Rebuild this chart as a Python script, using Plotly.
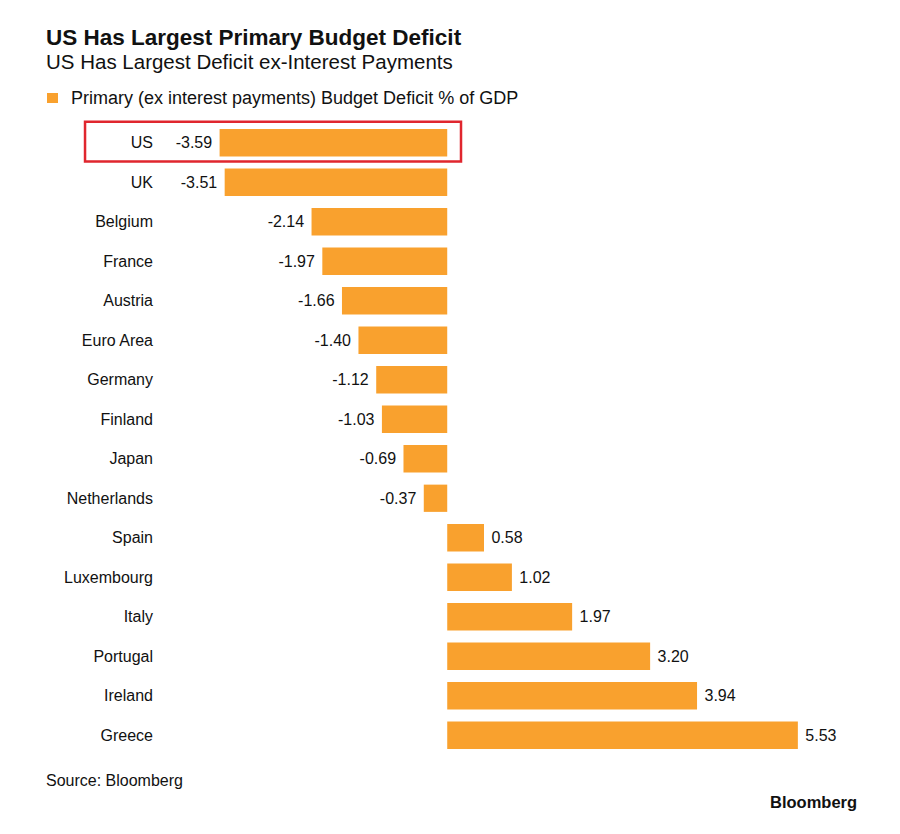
import plotly.graph_objects as go

countries = ["US", "UK", "Belgium", "France", "Austria", "Euro Area", "Germany",
             "Finland", "Japan", "Netherlands", "Spain", "Luxembourg", "Italy",
             "Portugal", "Ireland", "Greece"]
deficit = [-3.59, -3.51, -2.14, -1.97, -1.66, -1.40, -1.12, -1.03, -0.69, -0.37,
           0.58, 1.02, 1.97, 3.20, 3.94, 5.53]

orange = "#F9A12E"
font = "Liberation Sans"
nb = "\u00a0"

# pad the value labels a little away from the bar ends
labels = [f"{v:.2f}{nb}" if v < 0 else f"{nb}{v:.2f}" for v in deficit]

fig = go.Figure()
fig.add_trace(go.Bar(
    x=deficit, y=countries, orientation="h",
    marker=dict(color=orange, line=dict(width=0)),
    text=labels,
    textposition="outside",
    textfont=dict(size=16, color="#111111", family=font),
    cliponaxis=False,
    name="Primary (ex interest payments) Budget Deficit % of GDP",
))

fig.update_layout(
    width=900, height=834,
    margin=dict(l=152, r=48, t=115, b=87),
    paper_bgcolor="white", plot_bgcolor="white",
    bargap=0.31,
    showlegend=False,
    font=dict(family=font, color="#111111"),
    xaxis=dict(range=[-4.53, 6.51], visible=False, fixedrange=True),
    yaxis=dict(autorange="reversed", showgrid=False, zeroline=False,
               showline=False, ticks="", ticklabelstandoff=6,
               tickfont=dict(size=16, color="#111111", family=font)),
)

# highlight box around the US row
fig.add_shape(type="rect", xref="paper", yref="paper",
              x0=-0.1071, x1=0.43, y0=0.939, y1=1.002,
              line=dict(color="#E0262E", width=2.5), fillcolor="rgba(0,0,0,0)")

# titles, legend and footer
fig.add_annotation(text="<b>US Has Largest Primary Budget Deficit</b>",
                   xref="paper", yref="paper", x=-0.1657, y=1.136,
                   xanchor="left", yanchor="middle", showarrow=False,
                   font=dict(size=22.5, family=font, color="#111111"))
fig.add_annotation(text="US Has Largest Deficit ex-Interest Payments",
                   xref="paper", yref="paper", x=-0.1657, y=1.097,
                   xanchor="left", yanchor="middle", showarrow=False,
                   font=dict(size=20.5, family=font, color="#111111"))
fig.add_shape(type="rect", xref="paper", yref="paper",
              x0=-0.1614, x1=-0.1457, y0=1.0316, y1=1.0475,
              line=dict(width=0), fillcolor=orange)
fig.add_annotation(text="Primary (ex interest payments) Budget Deficit % of GDP",
                   xref="paper", yref="paper", x=-0.13, y=1.0396,
                   xanchor="left", yanchor="middle", showarrow=False,
                   font=dict(size=18, family=font, color="#111111"))
fig.add_annotation(text="Source: Bloomberg",
                   xref="paper", yref="paper", x=-0.1657, y=-0.0396,
                   xanchor="left", yanchor="middle", showarrow=False,
                   font=dict(size=16, family=font, color="#111111"))
fig.add_annotation(text="<b>Bloomberg</b>",
                   xref="paper", yref="paper", x=0.999, y=-0.0744,
                   xanchor="right", yanchor="middle", showarrow=False,
                   font=dict(size=16.5, family=font, color="#111111"))

fig.write_html("out.html")
